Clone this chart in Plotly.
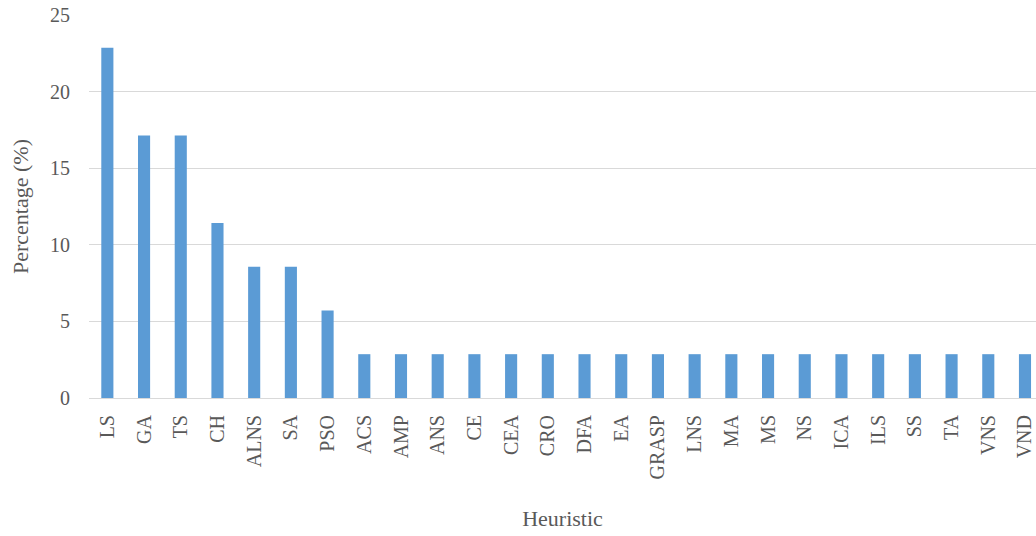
import plotly.graph_objects as go

heuristics = ["LS", "GA", "TS", "CH", "ALNS", "SA", "PSO", "ACS", "AMP", "ANS",
              "CE", "CEA", "CRO", "DFA", "EA", "GRASP", "LNS", "MA", "MS", "NS",
              "ICA", "ILS", "SS", "TA", "VNS", "VND"]
percentages = [22.86, 17.14, 17.14, 11.43, 8.57, 8.57, 5.71, 2.86, 2.86, 2.86,
               2.86, 2.86, 2.86, 2.86, 2.86, 2.86, 2.86, 2.86, 2.86, 2.86,
               2.86, 2.86, 2.86, 2.86, 2.86, 2.86]
y_ticks = [0, 5, 10, 15, 20, 25]

FONT = "Liberation Serif"
TXT = "#595959"

fig = go.Figure(go.Bar(
    x=heuristics, y=percentages,
    marker=dict(color="#5b9bd5", line=dict(width=0)),
    width=0.33,
))

fig.update_layout(
    width=1036, height=536,
    margin=dict(l=89, r=0, t=15, b=138),
    paper_bgcolor="white", plot_bgcolor="white",
    font=dict(family=FONT, color=TXT),
    showlegend=False,
    xaxis=dict(
        range=[-0.5, 25.3],
        tickangle=-90,
        tickfont=dict(size=20, family=FONT, color=TXT),
        ticklabelstandoff=8,
        showgrid=False,
        showline=True, linecolor="#d9d9d9", linewidth=1,
        title=dict(text="Heuristic", font=dict(size=22, family=FONT, color=TXT), standoff=32),
        automargin=False,
    ),
    yaxis=dict(
        range=[0, 25],
        tickvals=y_ticks,
        tickfont=dict(size=20, family=FONT, color=TXT),
        ticklabelstandoff=18,
        showgrid=True, gridcolor="#d9d9d9", gridwidth=1,
        zeroline=False, showline=False,
        title=dict(text="Percentage (%)", font=dict(size=22, family=FONT, color=TXT), standoff=15),
        automargin=False,
    ),
)

fig.write_html("out.html")
